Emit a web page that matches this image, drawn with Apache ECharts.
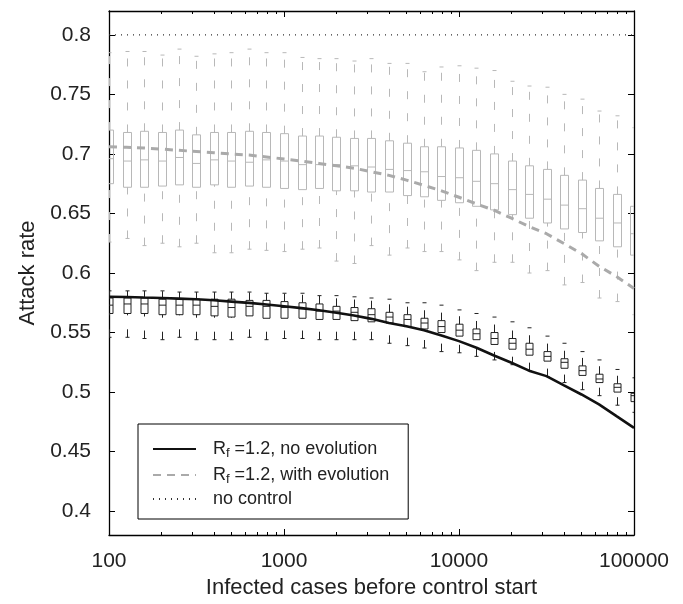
<!DOCTYPE html>
<html><head><meta charset="utf-8">
<script src="https://cdn.jsdelivr.net/npm/echarts@6/dist/echarts.min.js"></script>
<style>html,body{margin:0;padding:0;background:#fff}#c{width:683px;height:604px}</style>
</head><body><div id="c"></div>
<script>
// x positions (infected cases before control start)
const xValues = [100,126,158,200,251,316,398,501,631,794,1000,1259,1585,1995,2512,3162,3981,5012,6310,7943,10000,12589,15849,19953,25119,31623,39811,50119,63096,79433,100000];

// boxplots, with evolution (grey)
const grayLow  = [0.626,0.629,0.623,0.625,0.622,0.625,0.617,0.617,0.620,0.619,0.618,0.620,0.621,0.610,0.608,0.623,0.615,0.621,0.618,0.618,0.611,0.602,0.609,0.609,0.600,0.602,0.590,0.592,0.579,0.576,0.565];
const grayQ1   = [0.675,0.672,0.672,0.673,0.674,0.672,0.674,0.672,0.673,0.672,0.671,0.670,0.671,0.669,0.669,0.668,0.668,0.665,0.664,0.661,0.659,0.656,0.653,0.649,0.646,0.642,0.637,0.634,0.627,0.622,0.615];
const grayMed  = [0.696,0.694,0.695,0.694,0.697,0.692,0.695,0.694,0.693,0.695,0.694,0.691,0.691,0.691,0.690,0.689,0.687,0.686,0.685,0.681,0.680,0.677,0.675,0.670,0.666,0.662,0.657,0.654,0.646,0.642,0.633];
const grayQ3   = [0.720,0.718,0.719,0.718,0.720,0.716,0.718,0.718,0.719,0.718,0.717,0.715,0.715,0.714,0.713,0.713,0.711,0.709,0.706,0.706,0.705,0.703,0.700,0.694,0.690,0.687,0.682,0.678,0.671,0.666,0.656];
const grayHigh = [0.785,0.786,0.786,0.783,0.788,0.782,0.784,0.785,0.788,0.785,0.785,0.781,0.780,0.780,0.778,0.780,0.776,0.776,0.769,0.773,0.774,0.772,0.770,0.761,0.757,0.756,0.750,0.746,0.736,0.732,0.722];

// boxplots, no evolution (black)
const blackLow  = [0.546,0.546,0.545,0.544,0.546,0.544,0.544,0.544,0.546,0.544,0.545,0.545,0.544,0.544,0.544,0.544,0.541,0.539,0.537,0.534,0.533,0.530,0.527,0.523,0.518,0.513,0.508,0.502,0.497,0.489,0.483];
const blackQ1   = [0.566,0.566,0.566,0.565,0.565,0.565,0.564,0.563,0.564,0.562,0.562,0.562,0.561,0.561,0.560,0.559,0.558,0.555,0.553,0.550,0.547,0.544,0.540,0.536,0.531,0.526,0.520,0.514,0.508,0.500,0.492];
const blackMed  = [0.573,0.574,0.574,0.573,0.573,0.573,0.572,0.571,0.572,0.572,0.571,0.570,0.568,0.568,0.567,0.565,0.563,0.561,0.558,0.555,0.552,0.549,0.545,0.541,0.536,0.530,0.525,0.518,0.511,0.504,0.497];
const blackQ3   = [0.579,0.579,0.579,0.578,0.578,0.578,0.578,0.578,0.577,0.577,0.576,0.575,0.574,0.572,0.571,0.570,0.567,0.565,0.562,0.560,0.557,0.553,0.550,0.545,0.541,0.534,0.528,0.522,0.515,0.507,0.499];
const blackHigh = [0.585,0.585,0.585,0.585,0.584,0.584,0.584,0.584,0.584,0.583,0.583,0.583,0.581,0.581,0.580,0.579,0.578,0.575,0.575,0.573,0.569,0.566,0.563,0.559,0.554,0.547,0.541,0.534,0.527,0.519,0.512];

// model curves
const noEvolution   = [0.580,0.5798,0.5794,0.579,0.5785,0.578,0.5771,0.576,0.5749,0.5736,0.5721,0.5705,0.5687,0.5666,0.5643,0.5615,0.558,0.5553,0.552,0.5475,0.5428,0.5372,0.5307,0.5246,0.518,0.5134,0.5056,0.498,0.4897,0.4798,0.470];
const withEvolution = [0.706,0.7055,0.705,0.704,0.703,0.702,0.701,0.700,0.699,0.6975,0.6957,0.694,0.692,0.690,0.688,0.685,0.682,0.678,0.6736,0.669,0.6636,0.658,0.6527,0.646,0.639,0.633,0.6247,0.6163,0.6057,0.597,0.587];
const noControlX = [100, 100000];
const noControlY = [0.8, 0.8];

// ticks
const majorX = [100, 1000, 10000, 100000];
const minorX = [200,300,400,500,600,700,800,900,2000,3000,4000,5000,6000,7000,8000,9000,20000,30000,40000,50000,60000,70000,80000,90000];
const yTicks = [0.4,0.45,0.5,0.55,0.6,0.65,0.7,0.75,0.8];

const seriesNames = ['Rf =1.2, no evolution', 'Rf =1.2, with evolution', 'no control'];

const chart = echarts.init(document.getElementById('c'), null, {renderer: 'canvas'});

function rows(lo, q1, md, q3, hi) {
  return xValues.map((x, i) => [x, lo[i], q1[i], md[i], q3[i], hi[i]]);
}
function boxRenderer(color, width) {
  return function (params, api) {
    const x = api.value(0);
    const pLo = api.coord([x, api.value(1)]);
    const pQ1 = api.coord([x, api.value(2)]);
    const pMd = api.coord([x, api.value(3)]);
    const pQ3 = api.coord([x, api.value(4)]);
    const pHi = api.coord([x, api.value(5)]);
    const cx = Math.round(pMd[0]) + 0.5;
    const hw = width / 2;
    const cap = 2;
    const solid = {stroke: color, lineWidth: 1, fill: null};
    const wh = {stroke: color, lineWidth: 1, lineDash: [8, 14]};
    return {type: 'group', children: [
      // whiskers drawn upward (from lower value to higher value)
      {type: 'line', shape: {x1: cx, y1: pQ3[1], x2: cx, y2: pHi[1]}, style: wh},
      {type: 'line', shape: {x1: cx, y1: pLo[1], x2: cx, y2: pQ1[1]}, style: wh},
      {type: 'line', shape: {x1: cx - cap, y1: pHi[1], x2: cx + cap, y2: pHi[1]}, style: solid},
      {type: 'line', shape: {x1: cx - cap, y1: pLo[1], x2: cx + cap, y2: pLo[1]}, style: solid},
      {type: 'rect', shape: {x: cx - hw, y: pQ3[1], width: width, height: pQ1[1] - pQ3[1]}, style: {stroke: color, fill: 'none', lineWidth: 1}},
      {type: 'line', shape: {x1: cx - hw, y1: pMd[1], x2: cx + hw, y2: pMd[1]}, style: solid}
    ]};
  };
}

const font = 'Liberation Sans';
function xAxisDef(pos, ticks, len, showLine, labels) {
  return {
    type: 'log', logBase: 10, min: 100, max: 100000, position: pos,
    axisLine: {show: showLine, onZero: false, lineStyle: {color: '#000', width: 1.3}},
    axisTick: {show: true, inside: true, length: len, customValues: ticks, lineStyle: {color: '#000', width: 1}},
    axisLabel: labels ? {show: true, customValues: majorX, formatter: v => String(Math.round(v)), fontSize: 21, fontFamily: font, color: '#222', margin: 16} : {show: false},
    splitLine: {show: false}, minorTick: {show: false},
    name: labels ? 'Infected cases before control start' : '',
    nameLocation: 'middle', nameGap: 42,
    nameTextStyle: {fontSize: 22, fontFamily: font, color: '#222'}
  };
}
function yAxisDef(pos, labels) {
  return {
    type: 'value', min: 0.38, max: 0.82, position: pos,
    axisLine: {show: true, onZero: false, lineStyle: {color: '#000', width: 1.3}},
    axisTick: {show: true, inside: true, length: 6, customValues: yTicks, lineStyle: {color: '#000', width: 1}},
    axisLabel: labels ? {show: true, customValues: yTicks, formatter: v => String(+(+v).toFixed(2)), fontSize: 21, fontFamily: font, color: '#222', margin: 18} : {show: false},
    splitLine: {show: false},
    name: labels ? 'Attack rate' : '',
    nameLocation: 'middle', nameGap: 65,
    nameTextStyle: {fontSize: 22, fontFamily: font, color: '#222'}
  };
}

const legendLabels = {
  'Rf =1.2, no evolution': '{sp|}{m|R}{s|f}{m| =1.2, no evolution}',
  'Rf =1.2, with evolution': '{sp|}{m|R}{s|f}{m| =1.2, with evolution}',
  'no control': '{sp|}{m|no control}'
};

chart.setOption({
  animation: false,
  backgroundColor: '#fff',
  grid: {left: 109, right: 49, top: 11, bottom: 68, containLabel: false},
  xAxis: [
    xAxisDef('bottom', majorX, 6, true, true),
    xAxisDef('bottom', minorX, 3, false, false),
    xAxisDef('top', majorX, 6, true, false),
    xAxisDef('top', minorX, 3, false, false)
  ],
  yAxis: [yAxisDef('left', true), yAxisDef('right', false)],
  legend: {
    data: seriesNames,
    orient: 'vertical', left: 138, top: 424,
    backgroundColor: '#fff', borderColor: '#000', borderWidth: 1, borderRadius: 0,
    padding: [14, 19, 11, 14],
    itemWidth: 43, itemHeight: 18, itemGap: 4,
    itemStyle: {opacity: 0},
    formatter: name => legendLabels[name],
    textStyle: {
      fontSize: 18, fontFamily: font, color: '#222',
      rich: {
        sp: {width: 12},
        m: {fontSize: 18, fontFamily: font, color: '#222', lineHeight: 18},
        s: {fontSize: 13, fontFamily: font, color: '#222', padding: [9, 0, 0, 0], lineHeight: 13}
      }
    }
  },
  series: [
    {type: 'custom', name: 'grayBox', xAxisIndex: 0, yAxisIndex: 0, clip: true, z: 2,
     renderItem: boxRenderer('#b8b8b8', 8), data: rows(grayLow, grayQ1, grayMed, grayQ3, grayHigh),
     encode: {x: 0, y: [1, 2, 3, 4, 5]}, silent: true},
    {type: 'custom', name: 'blackBox', xAxisIndex: 0, yAxisIndex: 0, clip: true, z: 2,
     renderItem: boxRenderer('#222', 7), data: rows(blackLow, blackQ1, blackMed, blackQ3, blackHigh),
     encode: {x: 0, y: [1, 2, 3, 4, 5]}, silent: true},
    {type: 'line', name: seriesNames[2], xAxisIndex: 0, yAxisIndex: 0, z: 3, symbol: 'none', showSymbol: false,
     data: noControlX.map((x, i) => [x, noControlY[i]]),
     lineStyle: {color: '#333', width: 1.2, type: [1, 5]}, itemStyle: {color: '#333'}},
    {type: 'line', name: seriesNames[1], xAxisIndex: 0, yAxisIndex: 0, z: 4, symbol: 'none', showSymbol: false,
     data: xValues.map((x, i) => [x, withEvolution[i]]),
     lineStyle: {color: '#aaaaaa', width: 3, type: [8, 6]}, itemStyle: {color: '#aaaaaa'}},
    {type: 'line', name: seriesNames[0], xAxisIndex: 0, yAxisIndex: 0, z: 5, symbol: 'none', showSymbol: false,
     data: xValues.map((x, i) => [x, noEvolution[i]]),
     lineStyle: {color: '#111', width: 2.6}, itemStyle: {color: '#111'}}
  ]
});
</script>
</body></html>
